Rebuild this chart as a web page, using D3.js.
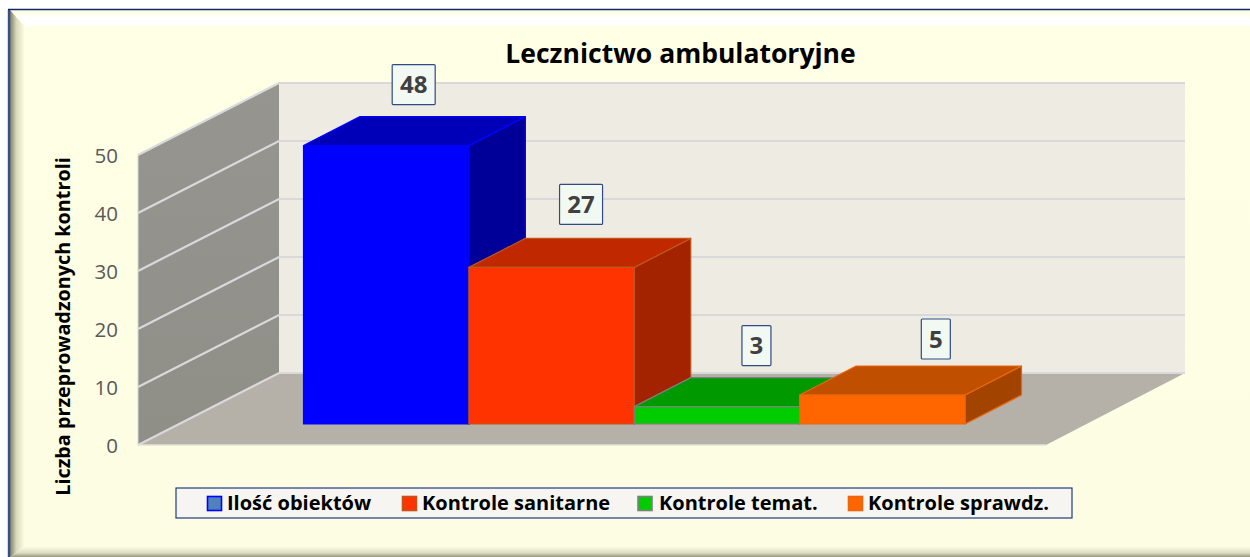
<!DOCTYPE html>
<html><head><meta charset="utf-8">
<script src="https://cdn.jsdelivr.net/npm/d3@7"></script>
<style>html,body{margin:0;padding:0;background:#fff}svg{display:block}text{font-family:"Open Sans",sans-serif}</style>
</head><body><svg id="c" width="1250" height="557"></svg>
<script>
const categories = ["Ilość obiektów","Kontrole sanitarne","Kontrole temat.","Kontrole sprawdz."];
const values = [48,27,3,5];
const tickLabels = [0,10,20,30,40,50];
const titleText = "Lecznictwo ambulatoryjne";
const yAxisTitle = "Liczba przeprowadzonych kontroli";
const frontColors = ["#0000ff","#ff3300","#00cc00","#ff6600"];
const topColors = ["#0000b8","#c02800","#009900","#c04f00"];
const sideColors = ["#000099","#a32200","#007a00","#a34300"];
const edgeColors = ["#0000ff","#c0561a","#7f7f7f","#e8670f"];
const legendFills = ["#4f81bd","#ff3300","#00cc00","#ff6600"];
const legendEdges = ["#0000ff","#c0561a","#7f7f7f","#e8670f"];
const labelNudge = [[-29,-32],[-27,-34],[-17,-32],[-3,-27]];

const svg = d3.select("#c");
const defs = svg.append("defs");
const bg = defs.append("linearGradient").attr("id","bg").attr("x1",0).attr("y1",0).attr("x2",0).attr("y2",1);
bg.append("stop").attr("offset",0).attr("stop-color","#ffffe6");
bg.append("stop").attr("offset",1).attr("stop-color","#fdfde4");
const lb = defs.append("linearGradient").attr("id","lb");
lb.append("stop").attr("offset",0).attr("stop-color","#7f7f66");
lb.append("stop").attr("offset",0.45).attr("stop-color","#d8d8bc");
lb.append("stop").attr("offset",1).attr("stop-color","#fbfbe0");
const tb = defs.append("linearGradient").attr("id","tb").attr("x1",0).attr("y1",0).attr("x2",0).attr("y2",1);
tb.append("stop").attr("offset",0).attr("stop-color","#ffffe2");
tb.append("stop").attr("offset",0.55).attr("stop-color","#ffffff");
tb.append("stop").attr("offset",1).attr("stop-color","#ffffff");
const bb = defs.append("linearGradient").attr("id","bb").attr("x1",0).attr("y1",0).attr("x2",0).attr("y2",1);
bb.append("stop").attr("offset",0).attr("stop-color","#fbfbe2");
bb.append("stop").attr("offset",0.6).attr("stop-color","#dcdcc2");
bb.append("stop").attr("offset",1).attr("stop-color","#97977e");
const sw = defs.append("linearGradient").attr("id","sw").attr("x1",0).attr("y1",0).attr("x2",0).attr("y2",1);
sw.append("stop").attr("offset",0).attr("stop-color","#969590");
sw.append("stop").attr("offset",1).attr("stop-color","#8f8e87");

// frame
svg.append("rect").attr("x",9).attr("y",10).attr("width",1241).attr("height",547).attr("fill","url(#bg)");
svg.append("path").attr("d","M10,10H1250V26H26Z").attr("fill","url(#tb)");
svg.append("path").attr("d","M10,10L24,26V547L10,557Z").attr("fill","url(#lb)");
svg.append("path").attr("d","M10,557L24,547H1250V557Z").attr("fill","url(#bb)");
svg.append("path").attr("d","M9,557V10").attr("fill","none").attr("stroke","#34508c").attr("stroke-width",2.4);
svg.append("path").attr("d","M8,9.5H1250").attr("fill","none").attr("stroke","#0f2a68").attr("stroke-width",1.4);

// scales
const y = d3.scaleLinear().domain([0,50]).range([445,155]);
const floorX = [138,1046], depth = {dx:141, dy:-72};
const x = d3.scaleBand().domain(categories).range([303.5,965]);
const barBase = 424, bd = {dx:56.5, dy:-29};
const baseShift = barBase - y(0);

// walls
const y0=y(0), y1=y(50);
svg.append("polygon").attr("points",[[floorX[0]+depth.dx,y1+depth.dy],[1185,y1+depth.dy],[1185,y0+depth.dy],[floorX[0]+depth.dx,y0+depth.dy]].join(" ")).attr("fill","#eeece2");
svg.append("polygon").attr("points",[[floorX[0],y0],[floorX[1],y0],[1185,y0+depth.dy],[floorX[0]+depth.dx,y0+depth.dy]].join(" ")).attr("fill","#b5b1a9");
svg.append("polygon").attr("points",[[floorX[0],y1],[floorX[0]+depth.dx,y1+depth.dy],[floorX[0]+depth.dx,y0+depth.dy],[floorX[0],y0]].join(" ")).attr("fill","url(#sw)");
// grid
tickLabels.forEach(t=>{
  const gy=y(t);
  svg.append("path").attr("d",`M${floorX[0]},${gy}L${floorX[0]+depth.dx},${gy+depth.dy}H1185`).attr("fill","none").attr("stroke","#d9d9dc").attr("stroke-width",2.2);
});
svg.append("path").attr("d",`M${floorX[0]},${y0}H${floorX[1]}`).attr("fill","none").attr("stroke","#e4e2da").attr("stroke-width",1.5);
svg.append("path").attr("d",`M${floorX[0]},${y1}V${y0}`).attr("fill","none").attr("stroke","#d9d9d9").attr("stroke-width",1);

// y axis
const axis = d3.axisLeft(y).tickValues(tickLabels).tickSize(0).tickPadding(0);
const gA = svg.append("g").attr("transform","translate(118,1)").call(axis);
gA.select(".domain").remove();
gA.selectAll("text").attr("fill","#595959").style("font-size","20.5px").style("font-family","'Open Sans',sans-serif");

// bars
const bars = svg.selectAll("g.bar").data(categories).join("g").attr("class","bar");
bars.each(function(c,i){
  const g=d3.select(this), xl=x(c), xr=xl+x.bandwidth(), top=y(values[i])+baseShift, b=barBase;
  const st=(sel)=>sel.attr("stroke",edgeColors[i]).attr("stroke-width",1.2).attr("stroke-linejoin","round");
  st(g.append("polygon").attr("points",[[xr,top],[xr+bd.dx,top+bd.dy],[xr+bd.dx,b+bd.dy],[xr,b]].join(" ")).attr("fill",sideColors[i]));
  st(g.append("polygon").attr("points",[[xl,top],[xl+bd.dx,top+bd.dy],[xr+bd.dx,top+bd.dy],[xr,top]].join(" ")).attr("fill",topColors[i]));
  st(g.append("rect").attr("x",xl).attr("y",top).attr("width",xr-xl).attr("height",b-top).attr("fill",frontColors[i]));
});

// labels
const lbl = svg.selectAll("g.lbl").data(categories).join("g").attr("class","lbl").attr("transform",(c,i)=>{
  const cx=x(c)+x.bandwidth()/2+bd.dx+labelNudge[i][0];
  const cy=y(values[i])+baseShift+bd.dy+labelNudge[i][1];
  return `translate(${cx},${cy})`;
});
lbl.append("rect").attr("x",(c,i)=>values[i]>=10?-21.5:-14.5).attr("y",-20).attr("width",(c,i)=>values[i]>=10?43:29).attr("height",40)
  .attr("fill","#f2f9f2").attr("stroke","#2f4a85").attr("stroke-width",1.2).attr("rx",1);
lbl.append("text").attr("text-anchor","middle").attr("y",8.5).attr("fill","#404040").style("font-size","24px").style("font-weight",700).text((c,i)=>values[i]);

// title
svg.append("text").attr("x",680.5).attr("y",63).attr("text-anchor","middle").attr("fill","#000").style("font-size","26.5px").style("font-weight",700).text(titleText);
svg.append("text").attr("transform","translate(70,326.5) rotate(-90)").attr("text-anchor","middle").attr("fill","#000").style("font-size","19.8px").style("font-weight",700).text(yAxisTitle);

// legend
svg.append("rect").attr("x",176).attr("y",488).attr("width",896).attr("height",30).attr("fill","#f6f5f1").attr("stroke","#1f3a80").attr("stroke-width",1.2);
const legendPos = [207.5,402.5,638,848.5];
const legendTextX = [227,422,659,868];
const leg = svg.selectAll("g.leg").data(categories).join("g").attr("class","leg");
leg.append("rect").attr("x",(c,i)=>legendPos[i]).attr("y",496.5).attr("width",14).attr("height",14).attr("fill",(c,i)=>legendFills[i]).attr("stroke",(c,i)=>legendEdges[i]).attr("stroke-width",1.6);
leg.append("text").attr("x",(c,i)=>legendTextX[i]).attr("y",510).attr("fill","#000").style("font-size","20px").style("font-weight",700).text(c=>c);
</script></body></html>
